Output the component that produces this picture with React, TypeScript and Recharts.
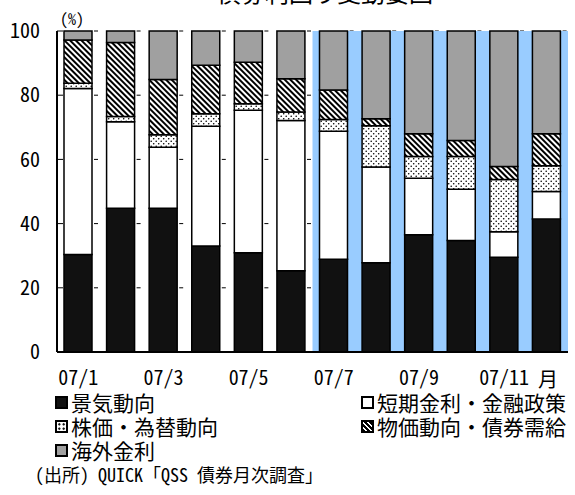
import React from "react";
import {
  Bar,
  BarChart,
  CartesianGrid,
  ReferenceArea,
  XAxis,
  YAxis,
} from "recharts";

const months = ["07/1", "07/2", "07/3", "07/4", "07/5", "07/6", "07/7", "07/8", "07/9", "07/10", "07/11", "07/12"];
const keiki = [30.4, 44.8, 44.8, 33.0, 30.9, 25.3, 28.9, 27.8, 36.5, 34.7, 29.5, 41.4];
const tanki = [51.7, 26.9, 19.0, 37.3, 44.4, 46.8, 39.9, 29.8, 17.6, 16.0, 8.0, 8.6];
const kabuka = [1.6, 1.7, 3.9, 3.9, 2.0, 2.7, 3.6, 12.9, 6.8, 10.2, 16.2, 8.0];
const bukka = [13.5, 23.0, 17.2, 15.1, 13.0, 10.3, 9.2, 2.2, 7.1, 5.0, 4.1, 10.0];
const kaigai = [2.8, 3.6, 15.1, 10.7, 9.7, 14.9, 18.4, 27.3, 32.0, 34.1, 42.2, 32.0];
const yTicks = [0, 20, 40, 60, 80, 100];

const data = months.map((m, i) => ({
  m,
  keiki: keiki[i],
  tanki: tanki[i],
  kabuka: kabuka[i],
  bukka: bukka[i],
  kaigai: kaigai[i],
}));

const font = "'Noto Sans Mono CJK JP', 'Noto Sans CJK JP', sans-serif";

function YTick(props: any) {
  const { x, y, payload } = props;
  return (
    <g>
      <line x1={x + 17} x2={x + 23} y1={y} y2={y} stroke="#000" strokeWidth={1} />
      <text x={x} y={y} dy="0.355em" textAnchor="end" fontSize={20} fontFamily={font} fill="#000">
        {payload.value}
      </text>
    </g>
  );
}

function Icon({ kind }: { kind: string }) {
  const base: React.CSSProperties = {
    display: "inline-block",
    width: 13,
    height: 13,
    boxSizing: "border-box",
    border: "2px solid #000",
    marginRight: 3,
    flex: "none",
  };
  if (kind === "black") return <span style={{ ...base, background: "#111" }} />;
  if (kind === "gray") return <span style={{ ...base, background: "#a0a0a0" }} />;
  if (kind === "white") return <span style={{ ...base, background: "#fff" }} />;
  if (kind === "dots")
    return (
      <span
        style={{
          ...base,
          background: "radial-gradient(circle, #000 1px, transparent 1.3px) 0 0 / 4.5px 4.5px, #fff",
        }}
      />
    );
  return (
    <span
      style={{
        ...base,
        background: "repeating-linear-gradient(45deg, #000 0 2px, #fff 2px 3.5px)",
      }}
    />
  );
}

function LegendItem({ kind, label, left, top }: { kind: string; label: string; left: number; top: number }) {
  return (
    <div
      style={{
        position: "absolute",
        left,
        top,
        height: 22,
        display: "flex",
        alignItems: "center",
        fontSize: 21,
        lineHeight: 1,
        fontFamily: font,
        whiteSpace: "nowrap",
        color: "#000",
      }}
    >
      <Icon kind={kind} />
      <span>{label}</span>
    </div>
  );
}

export default function App() {
  return (
    <div style={{ position: "absolute", left: 0, top: 0, width: 575, height: 495, background: "#fff", overflow: "hidden" }}>
      <div
        style={{
          position: "absolute",
          left: 0,
          width: 650,
          top: -20,
          textAlign: "center",
          fontSize: 24,
          lineHeight: 1,
          fontFamily: font,
        }}
      >
        債券利回り変動要因
      </div>
      <div style={{ position: "absolute", left: 60, top: 10, fontSize: 16, lineHeight: 1, fontFamily: font }}>(%)</div>

      <BarChart
        width={575}
        height={400}
        data={data}
        margin={{ top: 31, right: 7, bottom: 0, left: 0 }}
        barSize={28}
      >
        <defs>
          <pattern id="dots" width="5" height="5" patternUnits="userSpaceOnUse">
            <rect width="5" height="5" fill="#fff" />
            <circle cx="1.2" cy="1.2" r="0.8" fill="#000" />
            <circle cx="3.7" cy="3.7" r="0.8" fill="#000" />
          </pattern>
          <pattern id="hatch" width="4" height="4" patternUnits="userSpaceOnUse" patternTransform="rotate(-45)">
            <rect width="4" height="4" fill="#fff" />
            <rect width="2" height="4" fill="#000" />
          </pattern>
        </defs>
        <ReferenceArea x1="07/7" y1={0} y2={100} ifOverflow="visible" fill="#99ccff" fillOpacity={1} stroke="none" />
        <CartesianGrid vertical={false} stroke="#000" strokeDasharray="0 37 4 1.6" />
        <XAxis
          dataKey="m"
          interval={1}
          height={48}
          tickLine={false}
          tickSize={0}
          tickMargin={19}
          axisLine={{ stroke: "#000", strokeWidth: 2 }}
          tick={{ fontSize: 20, fontFamily: font, fill: "#000" }}
        />
        <XAxis xAxisId="top" dataKey="m" orientation="top" height={0} tick={false} tickLine={false} axisLine={{ stroke: "#000", strokeWidth: 2 }} />
        <YAxis
          domain={[0, 100]}
          ticks={yTicks}
          interval={0}
          width={57}
          tickLine={false}
          tickSize={0}
          tickMargin={17}
          axisLine={{ stroke: "#000", strokeWidth: 2 }}
          tick={<YTick />}
        />
        <YAxis yAxisId="right" orientation="right" width={0} domain={[0, 100]} tick={false} tickLine={false} axisLine={{ stroke: "#000", strokeWidth: 2 }} />
        <Bar dataKey="keiki" stackId="a" fill="#111" stroke="#000" strokeWidth={1.5} isAnimationActive={false} />
        <Bar dataKey="tanki" stackId="a" fill="#fff" stroke="#000" strokeWidth={1.5} isAnimationActive={false} />
        <Bar dataKey="kabuka" stackId="a" fill="url(#dots)" stroke="#000" strokeWidth={1.5} isAnimationActive={false} />
        <Bar dataKey="bukka" stackId="a" fill="url(#hatch)" stroke="#000" strokeWidth={1.5} isAnimationActive={false} />
        <Bar dataKey="kaigai" stackId="a" fill="#a0a0a0" stroke="#000" strokeWidth={1.5} isAnimationActive={false} />
      </BarChart>

      <div style={{ position: "absolute", left: 538, top: 369, fontSize: 20, lineHeight: 1, fontFamily: font }}>月</div>

      <LegendItem kind="black" label="景気動向" left={55} top={391} />
      <LegendItem kind="white" label="短期金利・金融政策" left={361} top={391} />
      <LegendItem kind="dots" label="株価・為替動向" left={55} top={415} />
      <LegendItem kind="hatch" label="物価動向・債券需給" left={361} top={415} />
      <LegendItem kind="gray" label="海外金利" left={55} top={439} />

      <div style={{ position: "absolute", left: 35, top: 465, fontSize: 18, lineHeight: 1, fontFamily: font, whiteSpace: "nowrap" }}>
        (出所) QUICK「QSS 債券月次調査」
      </div>
    </div>
  );
}
